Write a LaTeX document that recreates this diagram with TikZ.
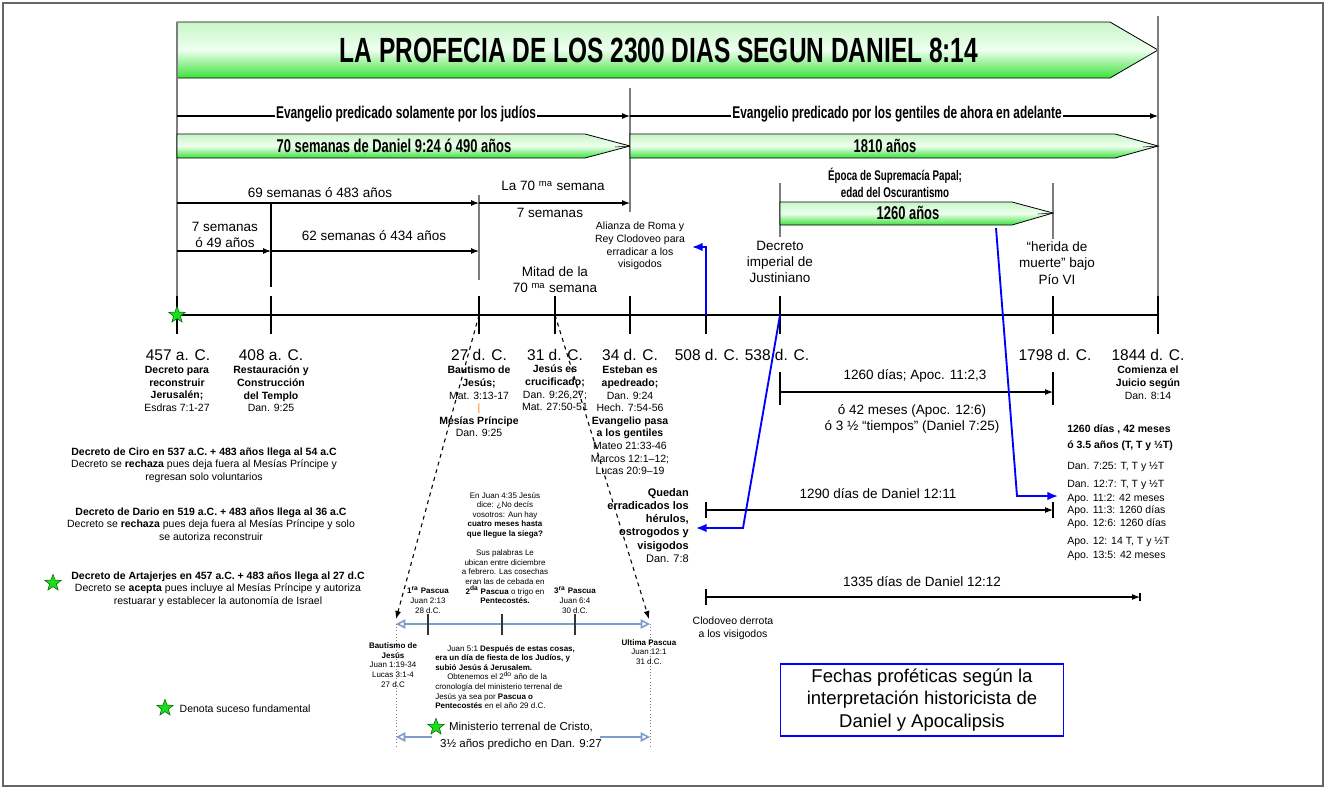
\documentclass[tikz,border=0pt]{standalone}
\usepackage{fontspec}
\setmainfont{Liberation Sans}
\newfontfamily\handfont[FakeStretch=0.7]{Liberation Sans Bold}
\usetikzlibrary{arrows.meta,shapes.geometric,positioning}

\definecolor{barlight}{RGB}{200,246,200}
\definecolor{barwhite}{RGB}{238,255,238}
\definecolor{bargreen}{RGB}{60,225,60}
\definecolor{stargreen}{RGB}{30,220,30}
\definecolor{paleblue}{RGB}{125,155,205}
\definecolor{guidegray}{RGB}{125,125,125}
\definecolor{refblue}{RGB}{0,0,255}

% font size given in pixels of the drawing
\newcommand{\fpx}[1]{\fontsize{\dimexpr #1pt*3/4\relax}{\dimexpr #1pt*9/10\relax}\selectfont}

\begin{document}
\begin{tikzpicture}[x=0.75pt,y=-0.75pt,
  guide/.style={draw=guidegray,line width=1.4pt},
  arr/.style={draw=black,line width=0.8pt,-{Latex[length=6pt,width=4.5pt]}},
  endtick/.style={draw=black,line width=0.8pt},
  greenbar/.style={draw=black,line width=0.6pt,top color=barlight,bottom color=bargreen,middle color=barwhite},
  hand/.style={font=\handfont\fpx{#1}},
  midtext/.style={font=\fpx{13.5},align=center},
  desc/.style={font=\fpx{10.5},align=center,inner sep=0pt,anchor=north},
  smalltxt/.style={font=\fpx{8},align=center,inner sep=0pt},
  date/.style={font=\fpx{15.5}},
  mainline/.style={line width=2.2pt},
  ttick/.style={line width=2.2pt},
  bluearr/.style={draw=refblue,line width=1.4pt,-{Latex[length=8pt,width=6.5pt]}},
  paleline/.style={draw=paleblue,line width=1.2pt},
  dashline/.style={dashed,line width=0.8pt,-{Latex[length=6pt,width=4.5pt]}},
  keystar/.style={star,star points=5,star point ratio=2.4,fill=stargreen,draw=black!60!green,line width=0.4pt,minimum size=13pt,inner sep=0pt}]
\useasboundingbox (0,0) rectangle (1327,790);
\draw[black!60,line width=0.8pt] (3,3) rectangle (1323,786);

% points of the main time line
\foreach \n/\x in {457/177,408/271,27/479,31/555,34/630,508/706,538/780,1798/1053,1844/1158}
  \coordinate (t\n) at (\x,315);

% title banner
\draw[greenbar] (177,22) -- (1110,22) -- (1158,50) -- (1110,78) -- (177,78) -- cycle;
\node[hand=35] (title) at (659,50) {LA PROFECIA DE LOS 2300 DIAS SEGUN DANIEL 8:14};

% vertical guides
\draw[guide] (t457 |- 0,22) -- (t457 |- 0,296);
\draw[guide] (t1844 |- 0,16) -- (t1844 |- 0,300);
\draw[guide] (t34 |- 0,88) -- (t34 |- 0,212);
\draw[guide] (t27 |- 0,195) -- (t27 |- 0,280);
\draw[guide] (t538 |- 0,183) -- (t538 |- 0,237);
\draw[guide] (t1798 |- 0,183) -- (t1798 |- 0,239);
\draw[endtick] (t408 |- 0,203) -- (t408 |- 0,287);

% who hears the gospel
\draw[arr] (t457 |- 0,116) -- (t34 |- 0,116);
\draw[arr] (t34 |- 0,116) -- (t1844 |- 0,116);
\node[hand=17,fill=white,inner sep=1pt] (judios) at (406,114) {Evangelio predicado solamente por los judíos};
\node[hand=17,fill=white,inner sep=1pt] (gentiles) at (897,114) {Evangelio predicado por los gentiles de ahora en adelante};

% the green periods
\draw[greenbar] (177,134) -- (585,134) -- (630,146) -- (585,158) -- (177,158) -- cycle;
\draw[line width=0.4pt] (630,146) -- (615,147);
\node[hand=18.5] (sem70) at (394,146) {70 semanas de Daniel 9:24 ó 490 años};
\draw[greenbar] (630,134) -- (1115,134) -- (1158,146) -- (1115,158) -- (630,158) -- cycle;
\draw[line width=0.4pt] (1158,146) -- (1143,147);
\node[hand=18.5] (an1810) at (885,146) {1810 años};
\node[hand=14,align=center] (papal) at (895,183) {Época de Supremacía Papal;\\edad del Oscurantismo};
\draw[greenbar] (780,202) -- (1012,202) -- (1053,213) -- (1012,225) -- (780,225) -- cycle;
\draw[line width=0.4pt] (1053,213) -- (1038,214);
\node[hand=18.5] (an1260) at (908,213) {1260 años};

% weeks
\draw[arr] (t457 |- 0,203) -- (t27 |- 0,203);
\draw[arr] (t27 |- 0,203) -- (t34 |- 0,203);
\node[midtext] (w69) at (320,193) {69 semanas ó 483 años};
\node[midtext] (la70) at (553,186) {La 70 \textsuperscript{ma} semana};
\node[midtext] (w7b) at (550,213) {7 semanas};
\draw[arr] (t457 |- 0,251) -- (t408 |- 0,251);
\draw[arr] (t408 |- 0,251) -- (t27 |- 0,251);
\node[midtext,fill=white,inner sep=2pt] (w7) at (225,235) {7 semanas\\ó 49 años};
\node[midtext] (w62) at (374,236) {62 semanas ó 434 años};
\node[midtext] (mitad) at (555,280) {Mitad de la\\70 \textsuperscript{ma} semana};
\node[font=\fpx{10.5},align=center] (alianza) at (640,246) {Alianza de Roma y\\Rey Clodoveo para\\erradicar a los\\visigodos};
\node[midtext] (justin) at (780,262) {Decreto\\imperial de\\Justiniano};
\node[midtext] (herida) at (1057,263) {“herida de\\muerte” bajo\\Pío VI};

% zoom on the 70th week
\coordinate (zl) at (396,624);
\coordinate (zr) at (650,624);
\coordinate (zdl) at (396,619);
\coordinate (zdr) at (649,619);
\draw[dashline] (t27) -- (zdl);
\draw[dashline] (t31) -- (zdr);

% main time line
\draw[mainline] (t457) -- (t1844);
\foreach \n in {457,408,27,31,34,508,538,1798,1844}
  \draw[ttick] (t\n) ++(0,-19) -- ++(0,38);
\node[keystar] (s457) at (t457) {};

\node[date] (d457) at (178,355) {457 a. C.};
\node[date] (d408) at (271,355) {408 a. C.};
\node[date] (d27) at (479,355) {27 d. C.};
\node[date] (d31) at (555,355) {31 d. C.};
\node[date] (d34) at (630,355) {34 d. C.};
\node[date] (d508) at (707,355) {508 d. C.};
\node[date] (d538) at (777,355) {538 d. C.};
\node[date] (d1798) at (1055,355) {1798 d. C.};
\node[date] (d1844) at (1148,355) {1844 d. C.};

\node[desc] (e457) at (177,366) {\textbf{Decreto para}\\\textbf{reconstruir}\\\textbf{Jerusalén;}\\Esdras 7:1-27};
\node[desc] (e408) at (271,366) {\textbf{Restauración y}\\\textbf{Construcción}\\\textbf{del Templo}\\Dan. 9:25};
\node[desc] (e27) at (479,366) {\textbf{Bautismo de}\\\textbf{Jesús;}\\Mat. 3:13-17\\\textcolor{orange}{|}\\\textbf{Mesías Príncipe}\\Dan. 9:25};
\node[desc] (e31) at (555,365) {\textbf{Jesús es}\\\textbf{crucificado;}\\Dan. 9:26,27;\\Mat. 27:50-51};
\node[desc] (e34) at (630,366) {\textbf{Esteban es}\\\textbf{apedreado;}\\Dan. 9:24\\Hech. 7:54-56\\\textbf{Evangelio pasa}\\\textbf{a los gentiles}\\Mateo 21:33-46\\Marcos 12:1–12;\\Lucas 20:9–19};
\node[desc] (e1844) at (1148,366) {\textbf{Comienza el}\\\textbf{Juicio según}\\Dan. 8:14};

% prophetic periods after 538
\node[midtext] (p1260) at (915,376) {1260 días; Apoc. 11:2,3};
\draw[arr] (t538 |- 0,392) -- (t1798 |- 0,392);
\draw[endtick] (t538 |- 0,372) -- (t538 |- 0,405);
\draw[endtick] (t1798 |- 0,372) -- (t1798 |- 0,405);
\node[midtext] (p42) at (912,419) {ó 42 meses (Apoc. 12:6)\\ó 3 ½ “tiempos” (Daniel 7:25)};

\node[midtext] (p1290) at (878,494) {1290 días de Daniel 12:11};
\draw[arr] (t508 |- 0,510) -- (t1798 |- 0,510);
\draw[endtick] (t508 |- 0,502) -- (t508 |- 0,518);
\draw[endtick] (t1798 |- 0,502) -- (t1798 |- 0,518);

\coordinate (e1335) at (1140,597);
\node[midtext] (p1335) at (922,582) {1335 días de Daniel 12:12};
\draw[arr] (t508 |- 0,597) -- (e1335);
\draw[endtick] (t508 |- 0,589) -- (t508 |- 0,605);
\draw[endtick] (e1335) ++(0,-4) -- ++(0,8);
\node[font=\fpx{10.5},align=center] (clodoveo) at (733,628) {Clodoveo derrota\\a los visigodos};

\node[font=\fpx{11},align=right,anchor=north east,inner sep=0pt] (quedan) at (689,488) {\textbf{Quedan}\\\textbf{erradicados los}\\\textbf{hérulos,}\\\textbf{ostrogodos y}\\\textbf{visigodos}\\Dan. 7:8};

\node[font=\fpx{10.5},align=left,anchor=north west,inner sep=0pt] (refs) at (1067,425) {\textbf{1260 días , 42 meses}\\[2.5pt]\textbf{ó 3.5 años (T, T y ½T)}\\[6pt]Dan. 7:25: T, T y ½T\\[4pt]Dan. 12:7: T, T y ½T\\[1pt]Apo. 11:2: 42 meses\\Apo. 11:3: 1260 días\\Apo. 12:6: 1260 días\\[4pt]Apo. 12: 14 T, T y ½T\\[1pt]Apo. 13:5: 42 meses};

% blue pointers
\coordinate (b508) at (706,247);
\coordinate (balz) at (692,247);
\draw[bluearr] (t508) -- (b508) -- (balz);
\coordinate (bq) at (743,528);
\coordinate (bqe) at (696,528);
\draw[bluearr] (t538) -- (bq) -- (bqe);
\coordinate (bs) at (996,228);
\coordinate (bc) at (1017,496);
\coordinate (bce) at (1058,496);
\draw[bluearr] (bs) -- (bc) -- (bce);

% decrees
\node[font=\fpx{10.5},align=center] (ciro) at (204,465) {\textbf{Decreto de Ciro en 537 a.C. + 483 años llega al 54 a.C}\\Decreto se \textbf{rechaza} pues deja fuera al Mesías Príncipe y\\regresan solo voluntarios};
\node[font=\fpx{10.5},align=center] (dario) at (211,524) {\textbf{Decreto de Dario en 519 a.C. + 483 años llega al 36 a.C}\\Decreto se \textbf{rechaza} pues deja fuera al Mesías Príncipe y solo\\se autoriza reconstruir};
\node[font=\fpx{10.5},align=center] (artajerjes) at (218,589) {\textbf{Decreto de Artajerjes en 457 a.C. + 483 años llega al 27 d.C}\\Decreto se \textbf{acepta} pues incluye al Mesías Príncipe y autoriza\\restuarar y establecer la autonomía de Israel};
\node[keystar] (sart) at (53,583) {};

% the 3 1/2 years of ministry
\draw[paleline,{Triangle[open,length=7pt,width=7pt]}-{Triangle[open,length=7pt,width=7pt]}] (zl) -- (zr);
\foreach \x in {428,502,575}
  \draw[line width=0.8pt,black!80] (\x,614) -- (\x,635);
\draw[dotted,black!50] (zl) -- (zl |- 0,748);
\draw[dotted,black!50] (zr) -- (zr |- 0,748);

\node[smalltxt] (pas1) at (428,600) {\textbf{1\textsuperscript{ra} Pascua}\\Juan 2:13\\28 d.C.};
\node[smalltxt] (pas3) at (575,600) {\textbf{3\textsuperscript{ra} Pascua}\\Juan 6:4\\30 d.C.};
\node[smalltxt] (juan435) at (505,548) {En Juan 4:35 Jesús\\dice: ¿No decís\\vosotros: Aun hay\\\textbf{cuatro meses hasta}\\\textbf{que llegue la siega?}\\ \\Sus palabras Le\\ubican entre diciembre\\a febrero. Las cosechas\\eran las de cebada en\\\textbf{2\textsuperscript{da} Pascua} o trigo en\\\textbf{Pentecostés.}};
\node[smalltxt] (bautismo) at (393,665) {\textbf{Bautismo de}\\\textbf{Jesús}\\Juan 1:19-34\\Lucas 3:1-4\\27 d.C};
\node[smalltxt] (ultima) at (649,652) {\textbf{Ultima Pascua}\\Juan 12:1\\31 d.C.};
\node[smalltxt,align=left,anchor=west] (juan51) at (435,677) {\hspace{9pt}Juan 5:1 \textbf{Después de estas cosas,}\\\textbf{era un día de fiesta de los Judíos, y}\\\textbf{subió Jesús á Jerusalem.}\\\hspace{9pt}Obtenemos el 2\textsuperscript{do} año de la\\cronología del ministerio terrenal de\\Jesús ya sea por \textbf{Pascua o}\\\textbf{Pentecostés} en el año 29 d.C.};

\coordinate (ml) at (396,737);
\coordinate (mlx) at (432,737);
\coordinate (mrx) at (600,737);
\coordinate (mr) at (650,737);
\draw[paleline,{Triangle[open,length=7pt,width=7pt]}-] (ml) -- (mlx);
\draw[paleline,-{Triangle[open,length=7pt,width=7pt]}] (mrx) -- (mr);
\node[keystar] (smin) at (436,727) {};
\node[font=\fpx{11.5},align=center] (minist) at (521,736) {Ministerio terrenal de Cristo,\\[2.4pt]3½ años predicho en Dan. 9:27};

% legend and caption
\node[keystar] (sleg) at (165,708) {};
\node[font=\fpx{10.5},anchor=west] (leyenda) at (175,709) {Denota suceso fundamental};
\node[draw=refblue,line width=0.9pt,minimum width=212pt,minimum height=54pt,inner sep=0pt,font=\fpx{18.5},align=center] (fechas) at (922,700) {Fechas proféticas según la\\interpretación historicista de\\Daniel y Apocalipsis};
\end{tikzpicture}
\end{document}
